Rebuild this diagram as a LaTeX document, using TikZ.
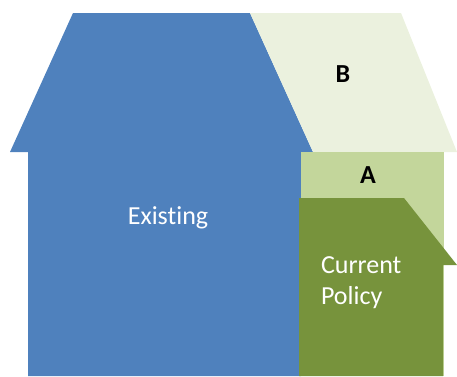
\documentclass[tikz,border=0pt]{standalone}
\usepackage{fontspec}
\setmainfont{Carlito}[Ligatures=NoCommon]
\definecolor{blueX}{HTML}{4F81BD}
\definecolor{paleB}{HTML}{EBF1DE}
\definecolor{lightA}{HTML}{C3D69B}
\definecolor{greenC}{HTML}{77933C}
\begin{document}
\begin{tikzpicture}[x=1pt,y=-1pt,
  lbl/.style={inner sep=0pt,outer sep=0pt},
  wlbl/.style={lbl,text=white,font=\fontsize{26}{31}\selectfont},
  blbl/.style={lbl,text=black,font=\fontsize{26}{31}\selectfont\bfseries}]
\useasboundingbox (0,0) rectangle (457,376);
\fill[blueX] (28,376) -- (28,152) -- (10,152) -- (73,13) -- (250,13) -- (313,152) -- (301,152) -- (301,376) -- cycle;
\fill[paleB] (250,13) -- (401,13) -- (457,152) -- (313,152) -- cycle;
\fill[lightA] (301,152) rectangle (444,376);
\fill[greenC] (299,376) -- (299,198) -- (404,198) -- (457,265) -- (443,265) -- (443,376) -- cycle;
\node[wlbl,anchor=base] (existing) at (168,224) {Existing};
\node[wlbl,anchor=base west] (current) at (321,273) {Current};
\node[wlbl,anchor=base west] (policy) at (321,304) {Policy};
\node[blbl] (b) at (343,74) {B};
\node[blbl] (a) at (368,175.5) {A};
\end{tikzpicture}
\end{document}
